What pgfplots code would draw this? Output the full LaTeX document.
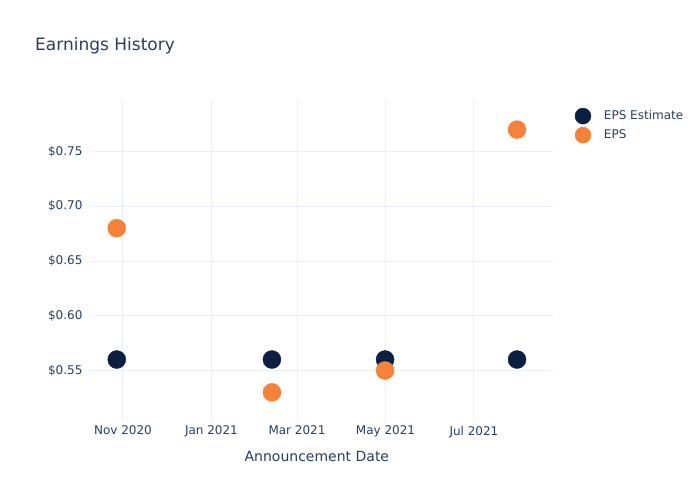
\documentclass[border=0pt]{standalone}
\usepackage{pgfplots}
\pgfplotsset{compat=1.18}
\usepackage{fontspec}
\setmainfont{DejaVu Sans}
\definecolor{txt}{HTML}{2A3F5F}
\definecolor{gridc}{HTML}{EBF0F8}
\definecolor{navy}{HTML}{0B1F42}
\definecolor{orng}{HTML}{F6823A}
\begin{document}
\begin{tikzpicture}[x=1pt,y=1pt]
\useasboundingbox (0,0) rectangle (700,500);
\fill[white] (0,0) rectangle (700,500);
\node[anchor=west, text=txt, font=\fontsize{17}{20}\selectfont, inner sep=0pt] at (35,454) {Earnings History};
\begin{axis}[at={(90pt,78.5pt)}, anchor=south west, scale only axis, width=463pt, height=320pt,
  xmin=-22.75, xmax=296.5, ymin=0.5034, ymax=0.7957,
  xtick={0,61,120,181,242}, xticklabels={Nov 2020, Jan 2021, Mar 2021, May 2021, Jul 2021},
  ytick={0.55,0.6,0.65,0.7,0.75}, yticklabels={\$0.55,\$0.60,\$0.65,\$0.70,\$0.75},
  grid=major, grid style={gridc, line width=1pt},
  axis line style={draw=none}, major tick length=0pt,
  tick label style={text=txt, font=\fontsize{12}{14}\selectfont},
  xticklabel style={yshift=-1pt},
  yticklabel style={xshift=-4pt},
  xlabel={Announcement Date},
  xlabel style={text=txt, font=\fontsize{14}{17}\selectfont, at={(axis description cs:0.49,0)}, anchor=center, yshift=-35pt},
  clip=false,
  legend style={draw=none, fill=none, at={(axis description cs:1.047,0.98)}, anchor=north west,
    font=\fontsize{12}{14}\selectfont, text=txt, inner sep=0pt, row sep=3pt},
  legend cell align=left,
  legend image code/.code={\path[draw=none] (-4pt,0pt) -- (23pt,0pt); \draw[#1, mark size=8pt] plot coordinates {(4pt,0pt)};},
]
\addplot[only marks, mark=*, mark size=9pt, navy, mark options={fill=navy, draw=navy}]
  coordinates {(-4.3,0.56) (102.7,0.56) (180.7,0.56) (271.7,0.56)};
\addlegendentry{EPS Estimate}
\addplot[only marks, mark=*, mark size=9pt, orng, mark options={fill=orng, draw=orng}]
  coordinates {(-4.3,0.68) (102.7,0.53) (180.7,0.55) (271.7,0.77)};
\addlegendentry{EPS}
\end{axis}
\end{tikzpicture}
\end{document}
